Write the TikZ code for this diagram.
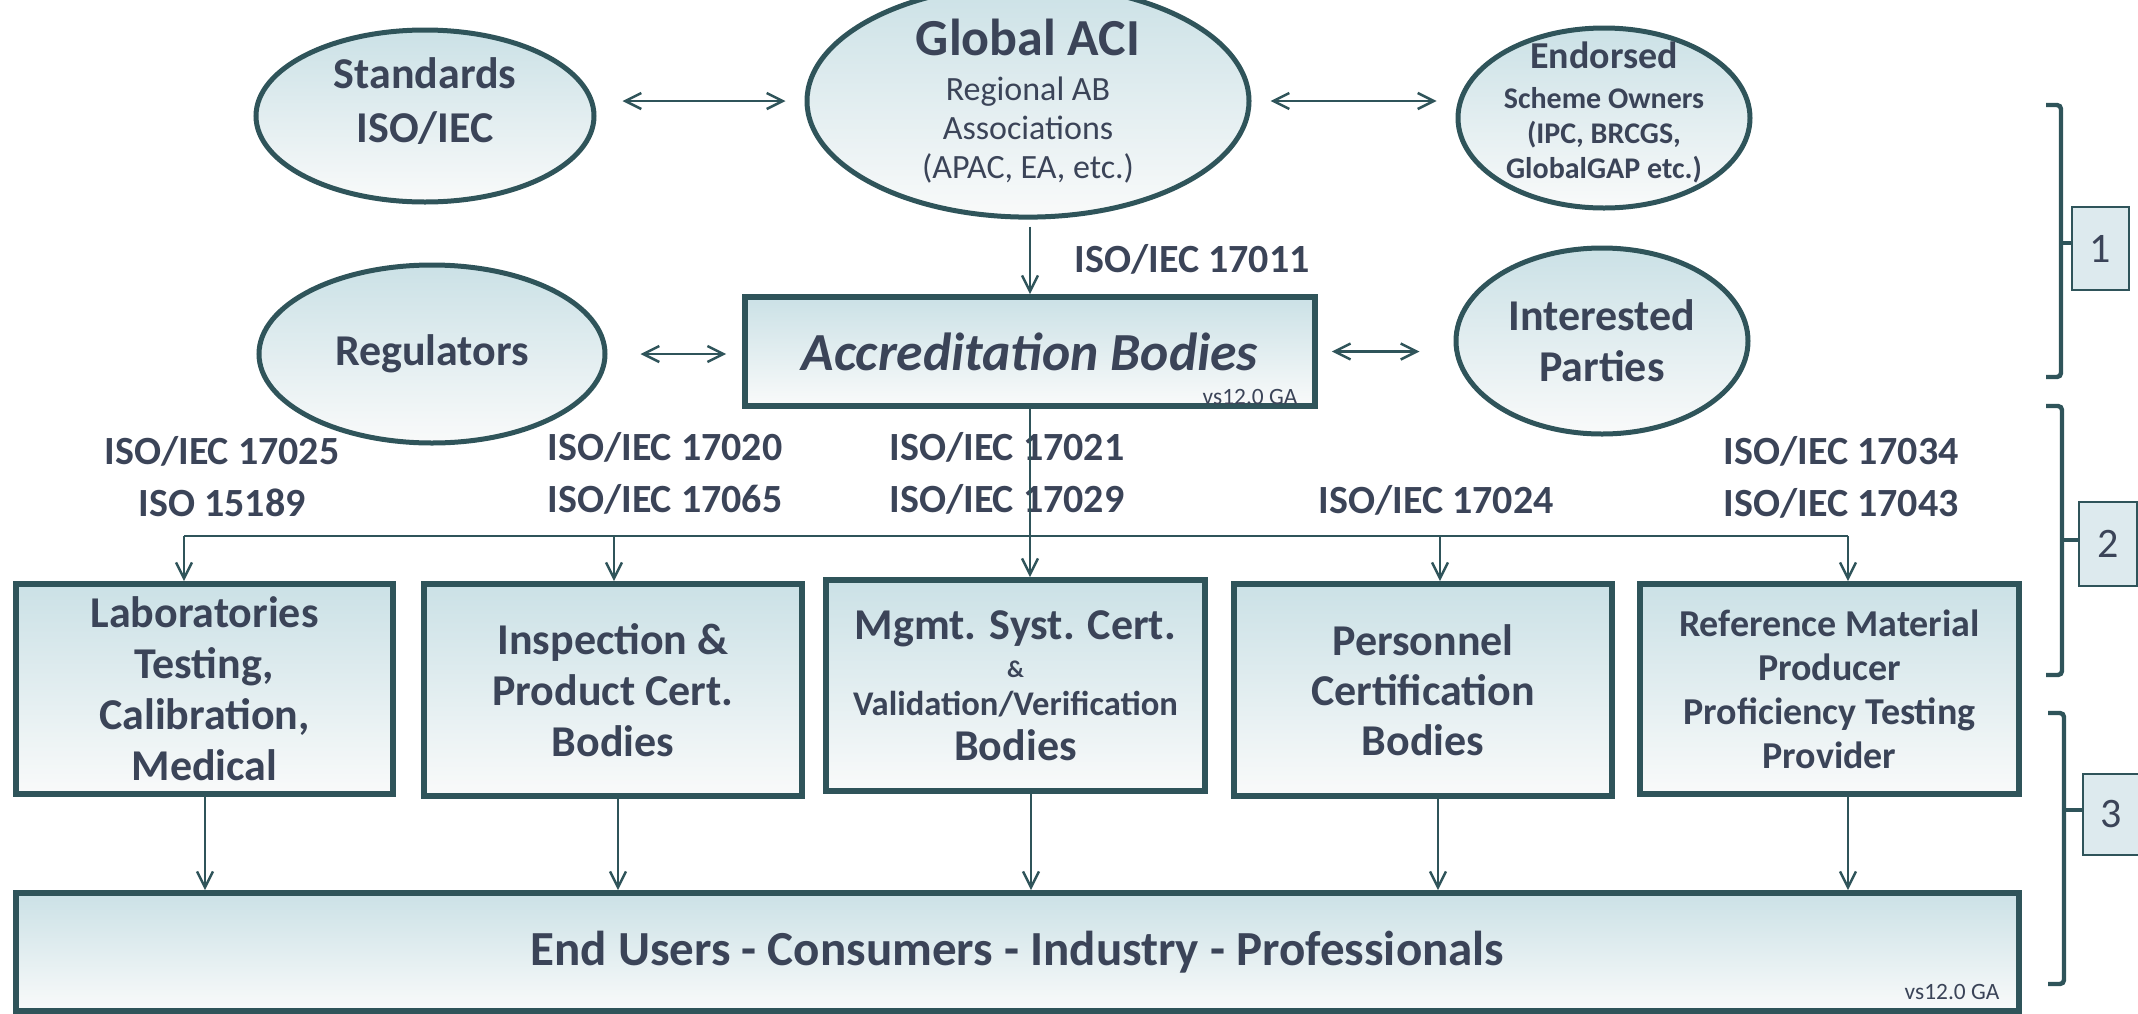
\documentclass[tikz,border=0pt]{standalone}
\usepackage{fontspec}
\setmainfont{Carlito}
\usetikzlibrary{shapes.geometric,arrows.meta,calc}
\definecolor{edgec}{RGB}{47,84,90}
\definecolor{txtc}{RGB}{59,68,88}
\definecolor{topc}{RGB}{203,225,230}
\definecolor{botc}{RGB}{249,250,250}
\definecolor{numfill}{RGB}{221,234,238}
\begin{document}
\begin{tikzpicture}[x=0.5pt,y=-0.5pt,
  ell/.style={ellipse, draw=edgec, line width=2.5pt, top color=topc, bottom color=botc, inner sep=0pt, align=center, text=txtc},
  bx/.style={rectangle, draw=edgec, line width=2.8pt, top color=topc, bottom color=botc, inner sep=0pt, align=center, text=txtc},
  lbl/.style={inner sep=0pt, align=center, text=txtc},
  conn/.style={draw=edgec, line width=1.25pt},
  arr/.style={conn, -{Straight Barb[length=8pt,width=8pt]}},
  darr/.style={conn, {Straight Barb[length=8pt,width=8pt]}-{Straight Barb[length=8pt,width=8pt]}},
  iso/.style={text=txtc, font=\bfseries\fontsize{20}{26}\selectfont, align=center, inner sep=0pt},
  big/.style={font=\bfseries\fontsize{22}{25.5}\selectfont},
  numbox/.style={rectangle, draw=edgec, line width=0.8pt, fill=numfill, text=txtc, inner sep=0pt, font=\fontsize{21}{21}\selectfont},
  brk/.style={draw=edgec, line width=2.2pt, rounded corners=2pt},
  ver/.style={text=txtc, inner sep=0pt, font=\fontsize{11.7}{12}\selectfont}]
\useasboundingbox (0,0) rectangle (2138,1013);

% top ellipses
\node[ell, minimum width=169pt, minimum height=86pt] (std) at (425,116) {};
\node[lbl, font=\bfseries\fontsize{22}{27}\selectfont] (stdt) at ([yshift=7.5pt]std.center) {Standards\\ISO/IEC};
\node[ell, font=\fontsize{17}{19.5}\selectfont, minimum width=221pt, minimum height=90pt] (gaci) at (1028,101)
  {{\bfseries\fontsize{26}{26}\selectfont Global ACI}\\[3pt]Regional AB\\Associations\\(APAC, EA, etc.)};
\node[ell, minimum width=146pt, minimum height=90pt] (endo) at (1604,118) {};
\node[lbl, font=\bfseries\fontsize{15}{17.5}\selectfont] (endot) at ([yshift=2.75pt]endo.center)
  {{\fontsize{19}{19}\selectfont Endorsed}\\[2.5pt]Scheme Owners\\(IPC, BRCGS,\\GlobalGAP etc.)};
\node[ell, big, minimum width=173pt, minimum height=89pt] (reg) at (432,354) {Regulators};
\node[ell, big, minimum width=146pt, minimum height=93pt] (intp) at (1602,341) {Interested\\Parties};

% accreditation bodies
\node[bx, minimum width=285pt, minimum height=54.5pt, font=\bfseries\itshape\fontsize{26.8}{28}\selectfont] (ab) at (1030,351.5) {Accreditation Bodies};
\node[ver, anchor=south east] (abv) at ([xshift=-10pt,yshift=2pt]ab.south east) {vs12.0 GA};

\node[iso] (l0) at (1192,259) {ISO/IEC 17011};

% connectors top
\draw[darr, shorten <=13pt, shorten >=9.5pt] (std.east |- gaci.west) -- (gaci.west);
\draw[darr, shorten <=9.5pt, shorten >=9.5pt] (gaci.east) -- (gaci.east -| endo.west);
\draw[darr, shorten <=16.5pt, shorten >=8pt] (reg.east) -- (reg.east -| ab.west);
\draw[darr, shorten <=7pt, shorten >=17pt] (ab.east) -- (ab.east -| intp.west);
\draw[arr, shorten <=3.5pt] (gaci.south -| ab.north) -- (ab.north);

% standards labels
\node[iso] (l1) at (222,477) {ISO/IEC 17025\\ISO 15189};
\node[iso] (l2) at (665,473) {ISO/IEC 17020\\ISO/IEC 17065};
\node[iso, align=left] (l3) at (1007,473) {ISO/IEC 17021\\ISO/IEC 17029};
\node[iso] (l4) at (1436,500) {ISO/IEC 17024};
\node[iso] (l5) at (1841,477) {ISO/IEC 17034\\ISO/IEC 17043};

% boxes row
\node[bx, big, minimum width=188.5pt, minimum height=105pt] (lab) at (204.5,689) {Laboratories\\Testing,\\Calibration,\\Medical};
\node[bx, big, minimum width=189pt, minimum height=106pt] (insp) at (613,690) {Inspection \&\\Product Cert.\\Bodies};
\node[bx, minimum width=189.5pt, minimum height=105.5pt, font=\bfseries\fontsize{17.3}{19}\selectfont] (mgmt) at (1015.5,685.5)
  {{\fontsize{22}{22}\selectfont Mgmt. Syst. Cert.}\\{\fontsize{12}{12}\selectfont\&}\\Validation/Verification\\[3.5pt]{\fontsize{22}{22}\selectfont Bodies}};
\node[bx, big, font=\bfseries\fontsize{22}{25}\selectfont, minimum width=189pt, minimum height=106pt] (pers) at (1423,690) {Personnel\\Certification\\Bodies};
\node[bx, font=\bfseries\fontsize{19}{22}\selectfont, minimum width=189.5pt, minimum height=105pt] (ref) at (1829.5,689) {Reference Material\\Producer\\Proficiency Testing\\Provider};

% end users
\node[bx, minimum width=1001.5pt, minimum height=59pt, font=\bfseries\fontsize{24.5}{26}\selectfont] (eu) at (1017.5,952) {End Users - Consumers - Industry - Professionals};
\node[ver, anchor=south east] (euv) at ([xshift=-11pt,yshift=7pt]eu.south east) {vs12.0 GA};

% bus
\coordinate (b1) at (184,536);
\coordinate (b2) at (614,536);
\coordinate (b4) at (1440,536);
\coordinate (b5) at (1848,536);
\draw[conn] (b1) -- (b5);
\draw[arr] (b1) -- (b1 |- lab.north);
\draw[arr] (b2) -- (b2 |- insp.north);
\draw[arr] (ab.south) -- (ab.south |- mgmt.north);
\draw[arr] (b4) -- (b4 |- pers.north);
\draw[arr] (b5) -- (b5 |- ref.north);

% arrows to end users
\coordinate (u1) at (205,0);
\coordinate (u2) at (618,0);
\coordinate (u3) at (1031,0);
\coordinate (u4) at (1438,0);
\coordinate (u5) at (1848,0);
\draw[arr] (lab.south -| u1) -- (eu.north -| u1);
\draw[arr] (insp.south -| u2) -- (eu.north -| u2);
\draw[arr] (mgmt.south -| u3) -- (eu.north -| u3);
\draw[arr] (pers.south -| u4) -- (eu.north -| u4);
\draw[arr] (ref.south -| u5) -- (eu.north -| u5);

% number boxes and brackets
\node[numbox, minimum width=28.5pt, minimum height=41.5pt] (n1) at (2100.5,248.5) {1};
\node[numbox, minimum width=29pt, minimum height=42pt] (n2) at (2108,544) {2};
\node[numbox, minimum width=28pt, minimum height=40.5pt] (n3) at (2111,814.5) {3};
\coordinate (k1) at (2061,243);
\coordinate (k2) at (2062,540);
\coordinate (k3) at (2064,810);
\draw[brk] (2046,105) -| (k1) |- (2046,377);
\draw[brk] (k1) -- (k1 -| n1.west);
\draw[brk] (2046,406) -| (k2) |- (2046,675);
\draw[brk] (k2) -- (k2 -| n2.west);
\draw[brk] (2048,713) -| (k3) |- (2048,984);
\draw[brk] (k3) -- (k3 -| n3.west);
\end{tikzpicture}
\end{document}
